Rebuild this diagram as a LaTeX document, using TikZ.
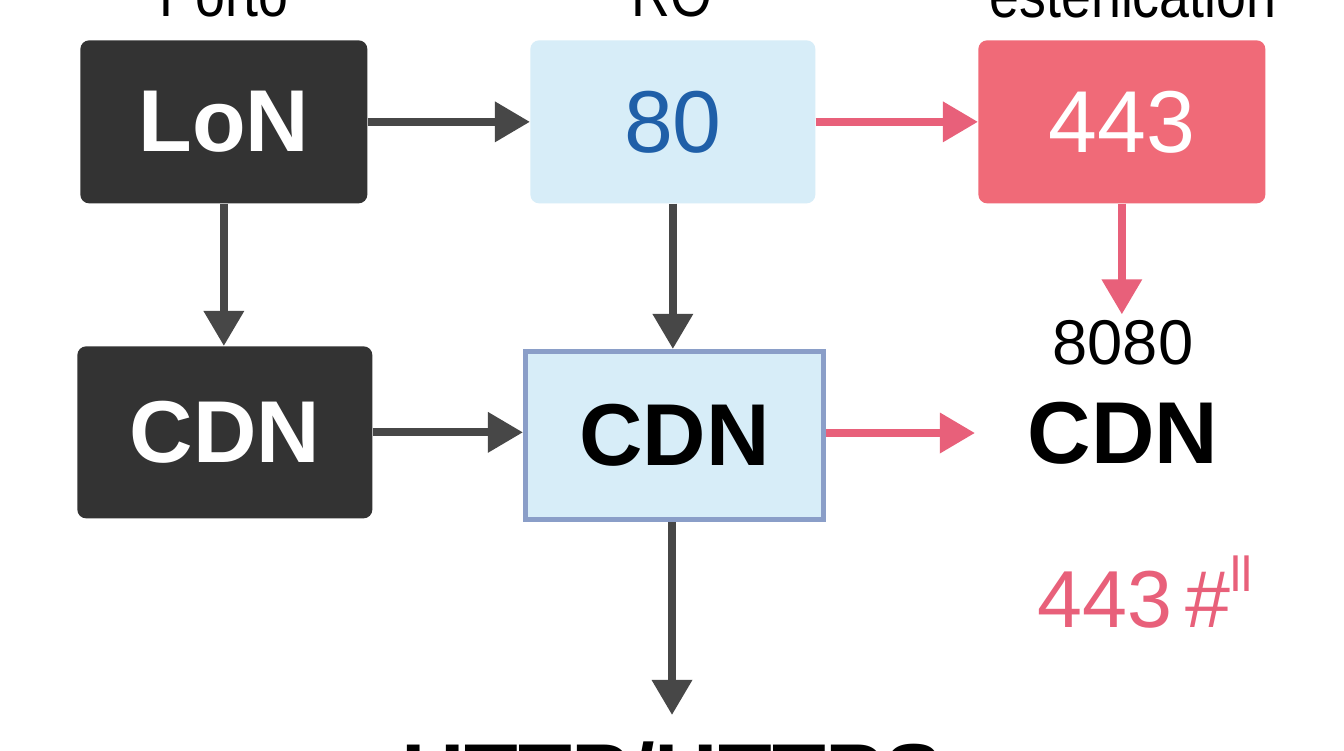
\documentclass[tikz,border=0pt]{standalone}
\usepackage{fontspec}
\setmainfont{Liberation Sans}
\usetikzlibrary{arrows.meta}
\definecolor{dk}{HTML}{333333}
\definecolor{ar}{HTML}{474747}
\definecolor{lb}{HTML}{D7EDF8}
\definecolor{bt}{HTML}{1F5FA8}
\definecolor{rd}{HTML}{F06A78}
\definecolor{ra}{HTML}{E8607A}
\definecolor{bd}{HTML}{8A9EC8}
\begin{document}
\begin{tikzpicture}[x=0.02cm,y=-0.02cm,
 box/.style={rounded corners=5pt,inner sep=0,anchor=north west},
 arr/.style={draw=ar,line width=4.5pt,-{Triangle[length=20pt,width=22pt]}},
 rarr/.style={draw=ra,line width=4.5pt,-{Triangle[length=20pt,width=22pt]}},
 big/.style={font=\fontsize{50}{50}\selectfont\bfseries},
 lab/.style={font=\fontsize{36}{36}\selectfont}]
\useasboundingbox (0,0) rectangle (1344,750);
\clip (0,0) rectangle (1344,750);
\fill[white] (0,0) rectangle (1344,750);
\node[box,fill=dk,minimum width=287*0.02cm,minimum height=163*0.02cm] (lon) at (80,40) {};
\node[text=white,big] at (lon.center) {LoN};
\node[box,fill=lb,minimum width=285*0.02cm,minimum height=163*0.02cm] (b80) at (530,40) {};
\node[text=bt,font=\fontsize{50}{50}\selectfont] at (b80.center) {80};
\node[box,fill=rd,minimum width=287*0.02cm,minimum height=163*0.02cm] (b443) at (978,40) {};
\node[text=white,font=\fontsize{50}{50}\selectfont] at (b443.center) {443};
\node[box,fill=dk,minimum width=295*0.02cm,minimum height=172*0.02cm] (cl) at (77,346) {};
\node[text=white,big] at (cl.center) {CDN};
\node[draw=bd,line width=3pt,fill=lb,inner sep=0,anchor=north west,minimum width=298*0.02cm,minimum height=168*0.02cm] (cm) at (523,349) {};
\node[text=black,big] at (cm.center) {CDN};
\node[lab] (p8080) at (1123,343) {8080};
\node[big,text=black] (cr) at (1123,433) {CDN};
\node[text=ra,font=\fontsize{46}{46}\selectfont] (t443) at (1145,592) {443\,\#\raisebox{0.45em}{\fontsize{28}{28}\selectfont ll}};
\node[font=\fontsize{50}{50}\selectfont\bfseries] (http) at (672,775) {HTTP/HTTPS};
\node[lab,xscale=0.85] (tp) at (224,-5) {Porto};
\node[lab,xscale=0.85] (tr) at (672,-5) {RO};
\node[lab,xscale=0.85] (te) at (1133,-5) {estenication};
\coordinate (rend) at (975,433);
\coordinate (hend) at (672,715);
\draw[arr] (lon.east) -- (b80.west);
\draw[rarr] (b80.east) -- (b443.west);
\draw[arr] (lon.south) -- (lon.south |- cl.north);
\draw[arr] (b80.south) -- (b80.south |- cm.north);
\draw[rarr] (b443.south) -- (b443.south |- p8080.north);
\draw[arr] (cl.east) -- (cl.east -| cm.west);
\draw[rarr] (cm.east |- rend) -- (rend);
\draw[arr] (cm.south -| hend) -- (hend);
\end{tikzpicture}
\end{document}
